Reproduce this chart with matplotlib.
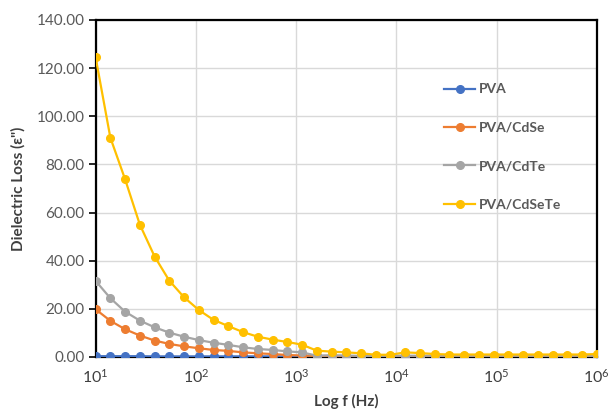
import matplotlib.pyplot as plt
from matplotlib.ticker import FormatStrFormatter, LogLocator, NullLocator

# frequencies (Hz)
freq = [10, 14.03, 19.69, 27.6, 38.8, 54.3, 76.2, 107, 150, 211, 296, 415, 582,
        817, 1146, 1608, 2256, 3166, 4441, 6231, 8742, 12266, 17209, 24145,
        33876, 47529, 66685, 93560, 131268, 184174, 258400, 362543, 508660,
        713667, 1000000]

pva = [0.3, 0.3, 0.3, 0.3, 0.2, 0.2, 0.2, 0.2, 0.2, 0.2, 0.2, 0.2, 0.2,
       0.2, 0.2, 0.2, 0.2, 0.2, 0.2, 0.2, 0.2, 0.2, 0.2, 0.2, 0.2, 0.2,
       0.2, 0.2, 0.2, 0.2, 0.2, 0.2, 0.2, 0.2, 0.2]
pva_cdse = [19.8, 15.0, 11.5, 8.9, 6.8, 5.4, 4.4, 3.6, 2.9, 2.5, 1.9, 1.5, 1.2,
            0.8, 0.6, 0.4, 0.4, 0.3, 0.3, 0.3, 0.3, 0.3, 0.3, 0.3, 0.3, 0.3,
            0.3, 0.3, 0.3, 0.3, 0.3, 0.3, 0.3, 0.3, 0.3]
pva_cdte = [31.6, 24.4, 18.8, 15.1, 12.3, 10.1, 8.4, 7.0, 5.9, 5.0, 4.0, 3.3, 2.9,
            2.3, 1.9, 0.5, 0.7, 0.6, 0.4, 0.4, 0.5, 0.5, 0.5, 0.5, 0.5, 0.5,
            0.5, 0.5, 0.5, 0.5, 0.5, 0.5, 0.5, 0.5, 0.5]
pva_cdsete = [124.5, 91.1, 73.8, 55.0, 41.7, 31.7, 24.8, 19.5, 15.4, 12.8, 10.3, 8.4, 7.2,
              6.2, 5.1, 2.6, 2.2, 1.9, 1.5, 0.9, 0.9, 1.9, 1.6, 1.2, 1.0, 1.0,
              1.0, 1.0, 1.0, 1.0, 1.0, 1.0, 1.0, 1.0, 1.2]

SERIES = [
    ("PVA", pva, "#4472c4"),
    ("PVA/CdSe", pva_cdse, "#ed7d31"),
    ("PVA/CdTe", pva_cdte, "#a5a5a5"),
    ("PVA/CdSeTe", pva_cdsete, "#ffc000"),
]

plt.rcParams["font.family"] = ["Lato", "DejaVu Sans"]
plt.rcParams["mathtext.fontset"] = "custom"
plt.rcParams["mathtext.rm"] = "Liberation Serif"
plt.rcParams["mathtext.it"] = "Liberation Serif:italic"

TXT = "#595959"

fig = plt.figure(figsize=(6.09, 4.16), dpi=100)
ax = fig.add_axes([0.157, 0.142, 0.823, 0.810])

for name, vals, color in SERIES:
    ax.plot(freq, vals, color=color, lw=1.6, marker="o", ms=5.5,
            label=name, zorder=3)

ax.set_xscale("log")
ax.set_xlim(10, 1e6)
ax.set_ylim(0, 140)
ax.set_yticks(range(0, 141, 20))
ax.yaxis.set_major_formatter(FormatStrFormatter("%.2f"))
ax.xaxis.set_major_locator(LogLocator(base=10))
ax.xaxis.set_minor_locator(NullLocator())

ax.grid(True, color="#d9d9d9", lw=1.0, zorder=0)
for side in ("left", "right", "top", "bottom"):
    ax.spines[side].set_color("black")
    ax.spines[side].set_linewidth(1.6)

ax.tick_params(axis="y", direction="out", length=5, width=1.2, color="black",
               labelsize=11, labelcolor=TXT, pad=3)
ax.tick_params(axis="x", length=0, labelsize=11.5, labelcolor="#404040", pad=8)

ax.set_xlabel("Log f (Hz)", fontsize=11, fontweight="bold", color="#404040", labelpad=6)
ax.set_ylabel("Dielectric Loss (ε\")", fontsize=11, fontweight="bold", color="#404040",
              labelpad=8)

leg = ax.legend(loc="upper left", bbox_to_anchor=(0.685, 0.828), frameon=False,
                fontsize=10, labelspacing=1.9, handlelength=2.2, handletextpad=0.3,
                borderaxespad=0)
for t in leg.get_texts():
    t.set_color(TXT)
    t.set_fontweight("bold")

fig.savefig("out.png", dpi=100)
